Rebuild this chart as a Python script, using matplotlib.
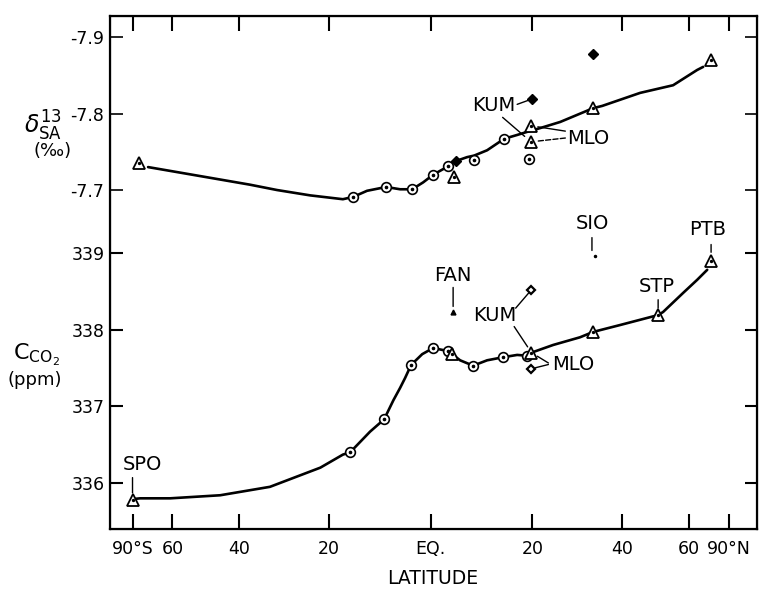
import numpy as np
import matplotlib
matplotlib.use("Agg")
import matplotlib.pyplot as plt

plt.rcParams['font.family'] = ['DejaVu Sans']
plt.rcParams['axes.unicode_minus'] = False

# ---------------- data ----------------
lat_ticks = [-90, -60, -40, -20, 0, 20, 40, 60, 90]
lat_tick_labels = ['90°S', '60', '40', '20', 'EQ.', '20', '40', '60', '90°N']
co2_ticks = [336, 337, 338, 339]
co2_tick_labels = ['336', '337', '338', '339']
d13_ticks = [-7.7, -7.8, -7.9]
d13_tick_labels = ['-7.7', '-7.8', '-7.9']

# CO2 (ppm) smooth curve
co2_curve_lat = [-90, -77.0, -60.9, -44.9, -32.6, -21.7, -17.1, -15.65, -11.7, -8.96, -7.15,
                 -5.86, -4.89, -3.73, -1.6, 0.5, 3.39, 5.7, 8.22, 10.95, 14.1, 16.9, 18.9, 19.8,
                 24.3, 30.1, 33.07, 39.5, 49.8, 51.3, 58.0, 63.5, 68.2]
co2_curve_val = [335.79, 335.80, 335.80, 335.84, 335.95, 336.20, 336.37, 336.40, 336.67, 336.83, 337.08,
                 337.24, 337.37, 337.54, 337.68, 337.76, 337.72, 337.60, 337.53, 337.60, 337.64, 337.67, 337.66, 337.70,
                 337.80, 337.90, 337.97, 338.06, 338.19, 338.23, 338.48, 338.65, 338.78]
# CO2 markers
co2_circle_lat = [-15.65, -8.96, -3.73, 0.5, 3.39, 8.22, 14.1, 18.9]
co2_circle_val = [336.40, 336.83, 337.54, 337.76, 337.72, 337.53, 337.64, 337.66]
co2_tri_lat = [-90, 4.16, 19.8, 33.07, 49.8, 70.3]
co2_tri_val = [335.78, 337.68, 337.70, 337.97, 338.19, 338.90]
co2_dia_lat = [19.8, 19.8]
co2_dia_val = [338.52, 337.49]
fan_lat, fan_val = 4.35, 338.23
sio_lat, sio_val = 33.5, 338.96

# delta 13C (permil) smooth curve
d13_curve_lat = [-71.4, -47.7, -37.3, -31.0, -23.8, -17.1, -15.05, -12.3, -8.57, -5.86, -3.54,
                 -1.42, 0.5, 3.39, 4.93, 7.05, 8.41, 10.95, 14.3, 16.9, 18.9, 21.6, 25.8,
                 33.07, 35.2, 44.7, 54.5, 63.5, 66.2]
d13_curve_val = [-7.730, -7.716, -7.707, -7.700, -7.693, -7.688, -7.691, -7.699, -7.704, -7.701, -7.701,
                 -7.710, -7.720, -7.731, -7.738, -7.743, -7.745, -7.752, -7.767, -7.772, -7.776, -7.781, -7.789,
                 -7.807, -7.810, -7.827, -7.837, -7.857, -7.861]
d13_circle_lat = [-15.05, -8.57, -3.54, 0.5, 3.39, 8.41, 14.3, 19.3]
d13_circle_val = [-7.691, -7.704, -7.701, -7.720, -7.731, -7.739, -7.767, -7.741]
d13_tri_lat = [-78, 4.54, 19.7, 19.7, 33.07, 70.3]
d13_tri_val = [-7.735, -7.717, -7.784, -7.763, -7.807, -7.870]
d13_dia_lat = [4.93, 19.9, 33.07]
d13_dia_val = [-7.738, -7.819, -7.878]


# ---------------- sine-of-latitude scale ----------------
def fwd(x):
    x = np.asarray(x, dtype=float)
    a = np.abs(x)
    s = np.sin(np.deg2rad(np.clip(x, -90, 90)))
    return np.where(a <= 90, s, np.sign(x) * (1 + (a - 90) / 90.0))


def inv(y):
    y = np.asarray(y, dtype=float)
    a = np.abs(y)
    d = np.rad2deg(np.arcsin(np.clip(y, -1, 1)))
    return np.where(a <= 1, d, np.sign(y) * (90 + (a - 1) * 90.0))


W, H = 766, 590
fig = plt.figure(figsize=(W / 100, H / 100), dpi=100)
ax = fig.add_axes([110 / W, 1 - 529 / H, (757 - 110) / W, (529 - 16) / H])
ax.set_xscale('function', functions=(fwd, inv))
ax.set_xlim(-96.8, 98.6)
ax.set_ylim(335.40, 342.09)

ax2 = ax.twinx()
ax2.set_ylim(-7.2569, -7.9275)

for sp in ax.spines.values():
    sp.set_linewidth(1.6)

ax.set_xticks(lat_ticks, labels=lat_tick_labels)
ax.tick_params(axis='x', which='major', direction='in', length=11, width=1.5,
               top=True, bottom=True, labeltop=False, labelsize=12.5, pad=8)
ax.tick_params(axis='x', which='minor', bottom=False, top=False)
ax.set_yticks(co2_ticks, labels=co2_tick_labels)
ax.tick_params(axis='y', which='major', direction='in', length=9, width=1.5,
               left=True, right=True, labelleft=True, labelright=False, labelsize=12.5, pad=4)
ax2.set_yticks(d13_ticks, labels=d13_tick_labels)
ax2.tick_params(axis='y', which='major', direction='in', length=9, width=1.2,
                left=True, right=True, labelleft=True, labelright=False, labelsize=12.5, pad=4)
ax2.tick_params(axis='y', which='minor', left=False, right=False)
ax.tick_params(axis='y', which='minor', left=False, right=False)

# ---------------- curves ----------------
lw = 1.9
ax.plot(co2_curve_lat, co2_curve_val, color='black', lw=lw, zorder=2,
        solid_capstyle='round', solid_joinstyle='round')
ax2.plot(d13_curve_lat, d13_curve_val, color='black', lw=lw, zorder=2,
         solid_capstyle='round', solid_joinstyle='round')

mk = dict(color='black', linestyle='none', zorder=4)


def circles(a, lat, val):
    a.plot(lat, val, marker='o', ms=7, mfc='white', mec='black', mew=1.2, **mk)
    a.plot(lat, val, marker='o', ms=1.6, mfc='black', mec='black', **mk)


def triangles(a, lat, val):
    a.plot(lat, val, marker='^', ms=8.5, mfc='white', mec='black', mew=1.3, **mk)
    a.plot(lat, val, marker='o', ms=1.4, mfc='black', mec='black', **mk)


circles(ax, co2_circle_lat, co2_circle_val)
triangles(ax, co2_tri_lat, co2_tri_val)
ax.plot(co2_dia_lat, co2_dia_val, marker='D', ms=4.5, mfc='white', mec='black', mew=1.6, **mk)
ax.plot([fan_lat], [fan_val], marker='^', ms=3.5, mfc='black', mec='black', **mk)
ax.plot([sio_lat], [sio_val], marker='.', ms=3, mfc='black', mec='black', **mk)

circles(ax2, d13_circle_lat, d13_circle_val)
triangles(ax2, d13_tri_lat, d13_tri_val)
ax2.plot(d13_dia_lat, d13_dia_val, marker='D', ms=5.5, mfc='black', mec='black', **mk)

# ---------------- station labels ----------------
fs = 14
lp = dict(arrowstyle='-', color='black', lw=1.0, shrinkA=0)


def leader(a, start, target, shrink=5, ls='-'):
    a.annotate('', xy=target, xytext=start,
               arrowprops=dict(lp, shrinkB=shrink, linestyle=ls), zorder=3)


# lower (CO2) panel
ax.text(-75, 336.24, 'SPO', fontsize=fs, ha='center', va='center')
leader(ax, (-90, 336.07), (-90, co2_tri_val[0]), shrink=5)
ax.text(fan_lat, 338.71, 'FAN', fontsize=fs, ha='center', va='center')
leader(ax, (fan_lat, 338.55), (fan_lat, fan_val), shrink=4)
ax.text(sio_lat - 0.7, 339.39, 'SIO', fontsize=fs, ha='center', va='center')
leader(ax, (sio_lat - 0.7, 339.20), (sio_lat - 0.7, sio_val), shrink=4)
ax.text(68.5, 339.30, 'PTB', fontsize=fs, ha='center', va='center')
leader(ax, (70.3, 339.11), (70.3, co2_tri_val[5]), shrink=6)
ax.text(49.5, 338.56, 'STP', fontsize=fs, ha='center', va='center')
leader(ax, (49.8, 338.39), (49.8, co2_tri_val[4]), shrink=5)
ax.text(12.4, 338.19, 'KUM', fontsize=fs, ha='center', va='center')
leader(ax, (16.6, 338.28), (co2_dia_lat[0], co2_dia_val[0]), shrink=3)
leader(ax, (16.3, 338.04), (co2_tri_lat[2], co2_tri_val[2]), shrink=5)
ax.text(28.6, 337.54, 'MLO', fontsize=fs, ha='center', va='center')
leader(ax, (23.3, 337.565), (co2_tri_lat[2], co2_tri_val[2]), shrink=5)
leader(ax, (23.3, 337.545), (co2_dia_lat[1], co2_dia_val[1]), shrink=3)

# upper (delta 13C) panel
ax2.text(12.2, -7.811, 'KUM', fontsize=fs, ha='center', va='center')
leader(ax2, (16.9, -7.812), (d13_dia_lat[1], d13_dia_val[1]), shrink=3)
leader(ax2, (14.0, -7.795), (d13_tri_lat[3], d13_tri_val[3]), shrink=6)
ax2.text(32.0, -7.768, 'MLO', fontsize=fs, ha='center', va='center')
leader(ax2, (26.9, -7.777), (d13_tri_lat[2], d13_tri_val[2]), shrink=5)
leader(ax2, (26.9, -7.768), (d13_tri_lat[3], d13_tri_val[3]), shrink=5, ls='--')

# ---------------- axis titles ----------------
fig.text(43 / W, 1 - 126 / H, r'$\delta^{13}_{\mathrm{SA}}$', fontsize=17, ha='center', va='center')
fig.text(53 / W, 1 - 151 / H, '(‰)', fontsize=13, ha='center', va='center')
fig.text(36 / W, 1 - 355 / H, r'$\mathrm{C_{CO_2}}$', fontsize=16, ha='center', va='center')
fig.text(35 / W, 1 - 380 / H, '(ppm)', fontsize=13, ha='center', va='center')
fig.text(433 / W, 1 - 578 / H, 'LATITUDE', fontsize=13.5, ha='center', va='center')

fig.savefig('out.png', dpi=100)
